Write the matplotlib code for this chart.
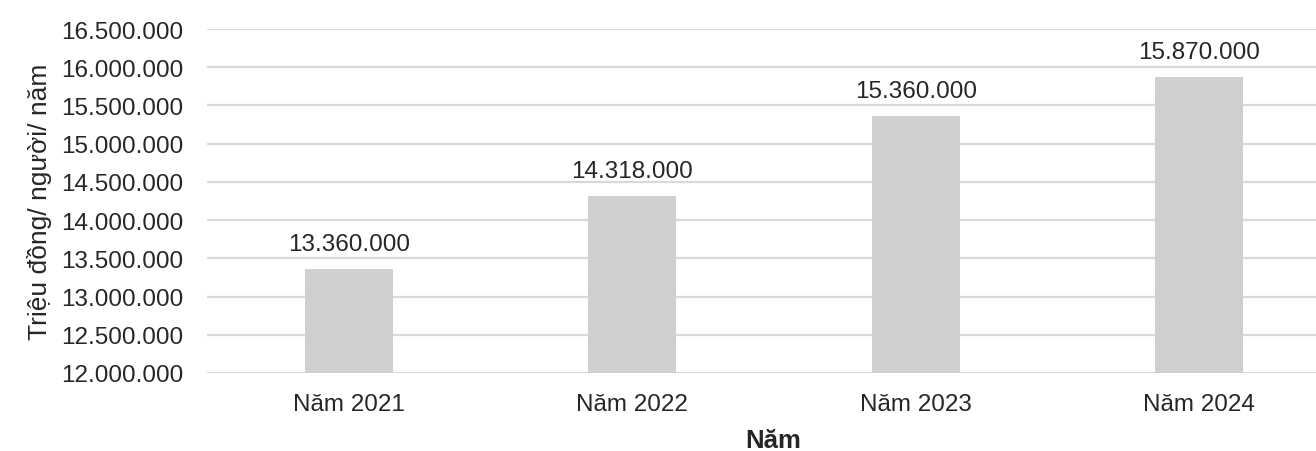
import matplotlib
matplotlib.use("Agg")
import matplotlib.pyplot as plt
from matplotlib.ticker import FuncFormatter

categories = ["Năm 2021", "Năm 2022", "Năm 2023", "Năm 2024"]
values = [13360000, 14318000, 15360000, 15870000]
yticks = [12000000 + 500000 * i for i in range(10)]

plt.rcParams['font.family'] = ['Liberation Sans', 'DejaVu Sans']

def fmt(v):
    return f"{int(round(v)):,}".replace(",", ".")

W, H = 1316, 452
fig = plt.figure(figsize=(W / 100, H / 100), dpi=100)
ax = fig.add_axes([207 / W, 78 / H, (W - 207) / W, (374 - 30) / H])

x = list(range(len(categories)))
ax.bar(x, values, width=0.31, color="#d0cece", zorder=3)
ax.set_ylim(12000000, 16500000)
ax.set_xlim(-0.5, 3.5 - 25 / 284)
ax.set_yticks(yticks)
ax.yaxis.set_major_formatter(FuncFormatter(lambda v, p: fmt(v)))
ax.set_xticks(x)
ax.set_xticklabels(categories)
ax.tick_params(axis='both', length=0, labelsize=17.5, colors="#262626")
ax.tick_params(axis='y', pad=17)
ax.tick_params(axis='x', pad=14.5)
ax.grid(axis='y', color="#d9d9d9", linewidth=1.6, zorder=0)
for s in ax.spines.values():
    s.set_visible(False)

for xi, v in zip(x, values):
    ax.annotate(fmt(v), (xi, v), xytext=(0, 13.5), textcoords="offset points",
                ha="center", va="baseline", fontsize=17.5, color="#262626")

fig.text(40 / W, 1 - 202 / H, "Triệu đồng/ người/ năm", rotation=90,
         ha="center", va="center", fontsize=19, color="#262626")
fig.text(773 / W, 1 - 441 / H, "Năm", ha="center", va="center",
         fontsize=18.5, fontweight="bold", color="#262626")

fig.savefig("out.png", dpi=100)
